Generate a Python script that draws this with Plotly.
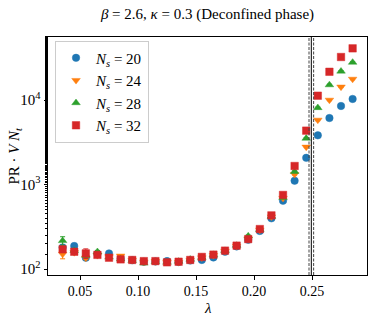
import plotly.graph_objects as go

lam = [0.035, 0.045, 0.055, 0.065, 0.075, 0.085, 0.095, 0.105, 0.115, 0.125,
       0.135, 0.145, 0.155, 0.165, 0.175, 0.185, 0.195, 0.205, 0.215, 0.225,
       0.235, 0.245, 0.255, 0.265, 0.275, 0.285]

pr_20 = [180, 187, 136, 150, 153, 132, 127, 122, 123, 124, 121, 126, 128, 137, 160, 185,
         222, 282, 398, 643, 1110, 2070, 3820, 6120, 8500, 10300]
err_20 = [12, 14, 8, 6, 6, 4, 4, 4, 4, 4, 4, 4, 4, 4, 5, 5, 6, 7, 9, 14, 25, 45, 80, 120, 160, 190]

pr_24 = [150, 157, 135, 145, 140, 143, 127, 121, 123, 121, 120, 127, 136, 145, 163, 187,
         228, 290, 415, 690, 1320, 2780, 5800, 10000, 14300, 17700]
err_24 = [18, 8, 6, 6, 5, 5, 4, 4, 4, 4, 4, 4, 4, 4, 5, 5, 6, 7, 9, 14, 28, 55, 110, 190, 270, 330]

pr_28 = [216, 165, 145, 160, 138, 131, 126, 117, 122, 120, 123, 130, 137, 148, 165, 190,
         245, 292, 420, 700, 1420, 3520, 8100, 15100, 21900, 27900]
err_28 = [25, 9, 7, 6, 5, 5, 4, 4, 4, 4, 4, 4, 4, 4, 5, 5, 7, 7, 9, 15, 30, 70, 150, 280, 400, 500]

pr_32 = [171, 160, 153, 147, 136, 130, 128, 124, 124, 120, 122, 128, 139, 148, 165, 189,
         226, 297, 431, 752, 1656, 4340, 11250, 21600, 32300, 40900]
err_32 = [14, 10, 20, 7, 6, 5, 4, 4, 4, 4, 4, 4, 4, 4, 5, 5, 6, 7, 10, 16, 35, 90, 210, 400, 600, 750]

labels = ["<i>N</i><sub><i>s</i></sub> = 20", "<i>N</i><sub><i>s</i></sub> = 24",
          "<i>N</i><sub><i>s</i></sub> = 28", "<i>N</i><sub><i>s</i></sub> = 32"]

lam_c = 0.2494
lam_c_err = 0.002

series = [
    (pr_20, err_20, labels[0], "#1f77b4", "rgba(31,119,180,0.45)", "circle"),
    (pr_24, err_24, labels[1], "#ff7f0e", "rgba(255,127,14,0.45)", "triangle-down"),
    (pr_28, err_28, labels[2], "#2ca02c", "rgba(44,160,44,0.45)", "triangle-up"),
    (pr_32, err_32, labels[3], "#d62728", "rgba(214,39,40,0.45)", "square"),
]

fig = go.Figure()
for y, e, name, col, edge, sym in series:
    fig.add_trace(go.Scatter(
        x=lam, y=y, name=name, mode="markers",
        marker=dict(color=col, symbol=sym, size=7.5, line=dict(color=edge, width=1)),
        error_y=dict(type="data", array=e, visible=True, color=col, thickness=1, width=2.5),
    ))

for xv, dash, col in [(lam_c - lam_c_err, "3px,1.5px", "#444444"), (lam_c, "solid", "black"),
                      (lam_c + lam_c_err, "3px,1.5px", "#444444")]:
    fig.add_shape(type="line", xref="x", yref="paper", x0=xv, x1=xv, y0=0, y1=1,
                  line=dict(color=col, width=1, dash=dash))

font = "Liberation Serif, DejaVu Serif, serif"
fig.update_layout(
    width=374, height=317,
    margin=dict(l=48, r=7, t=37, b=42),
    paper_bgcolor="white", plot_bgcolor="white",
    font=dict(family=font, size=15, color="black"),
    title=dict(text="<i>β</i> = 2.6, <i>κ</i> = 0.3 (Deconfined phase)",
               x=0.5, xref="paper", xanchor="center", y=1 - 14 / 317, yanchor="middle",
               font=dict(size=15, family=font)),
    legend=dict(x=0.022, y=0.985, xanchor="left", yanchor="top",
                bgcolor="white", bordercolor="#cccccc", borderwidth=1,
                font=dict(size=15, family=font), itemwidth=30, tracegroupgap=0),
    showlegend=True,
    annotations=[
        dict(text="<i>λ</i>", xref="paper", yref="paper", x=0.5, y=-0.14,
             xanchor="center", yanchor="middle", showarrow=False, font=dict(size=15)),
        dict(text="PR · <i>V N</i><sub><i>t</i></sub>", xref="paper", yref="paper",
             x=-0.105, y=0.5, xanchor="center", yanchor="middle", textangle=-90,
             showarrow=False, font=dict(size=15)),
    ],
)
fig.update_xaxes(
    range=[0.0224, 0.2974], tickvals=[0.05, 0.10, 0.15, 0.20, 0.25],
    ticktext=["0.05", "0.10", "0.15", "0.20", "0.25"],
    showgrid=False, zeroline=False, showline=True, linecolor="black", linewidth=1,
    mirror=True, ticks="outside", ticklen=3.5, tickcolor="black",
    tickfont=dict(size=14),
)
fig.update_yaxes(
    type="log", range=[1.929, 4.746], tickvals=[100, 1000, 10000],
    ticktext=["10<sup>2</sup>", "10<sup>3</sup>", "10<sup>4</sup>"],
    showgrid=False, zeroline=False, showline=True, linecolor="black", linewidth=1,
    mirror=True, ticks="outside", ticklen=3.5, tickcolor="black",
    minor=dict(ticks="outside", ticklen=2, tickcolor="black", showgrid=False),
    tickfont=dict(size=15),
)

fig.write_html("out.html", config={"displayModeBar": False},
               post_script="document.body.style.margin='0';document.body.style.padding='0';")
